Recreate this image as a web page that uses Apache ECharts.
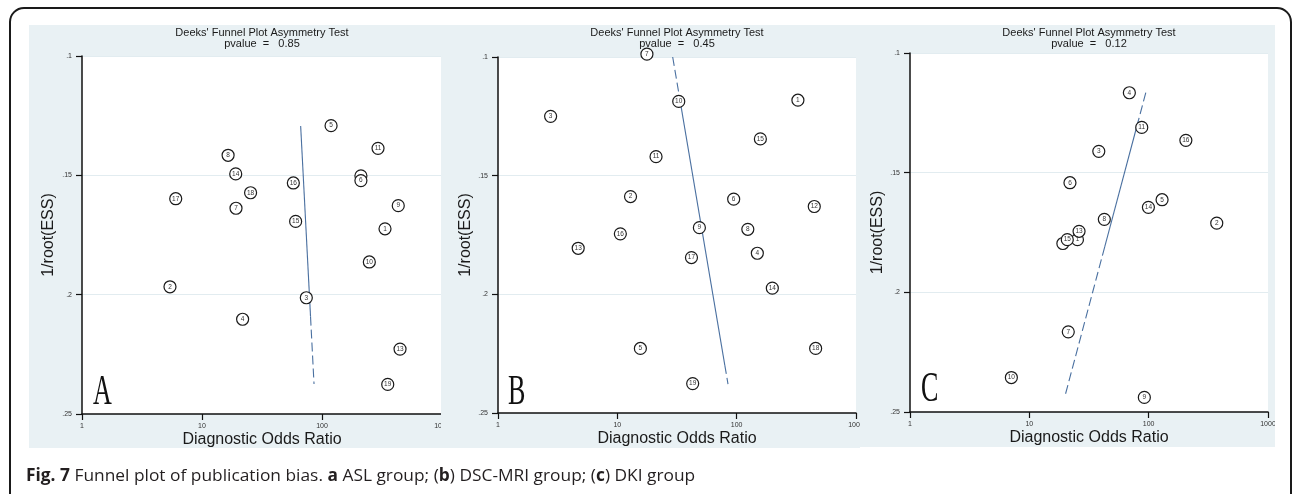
<!DOCTYPE html>
<html>
<head>
<meta charset="utf-8">
<script src="https://cdn.jsdelivr.net/npm/echarts@6/dist/echarts.min.js"></script>
<style>
html, body { margin: 0; padding: 0; background: #fff; }
#page { position: relative; width: 1293px; height: 494px; overflow: hidden; }
#frame { position: absolute; left: 0; top: 0; width: 1293px; height: 494px; }
.panel { position: absolute; overflow: hidden; }
.panel .chart { position: absolute; left: 0; top: 0; }
</style>
</head>
<body>
<div id="page">
  <div id="frame"></div>
  <div class="panel" style="left:29px;top:25px;width:412px;height:423px"><div class="chart" id="chartA" style="width:443px;height:423px"></div></div>
  <div class="panel" style="left:441px;top:25px;width:419px;height:423px"><div class="chart" id="chartB" style="width:445px;height:423px"></div></div>
  <div class="panel" style="left:860px;top:25px;width:415px;height:422px"><div class="chart" id="chartC" style="width:438px;height:422px"></div></div>
</div>
<script>
// A 组 (ASL)
const aStudy = [1, 2, 3, 4, 5, 6, 7, 8, 9, 10, 11, 12, 13, 14, 15, 16, 17, 18, 19]
const aDor = [335, 5.41, 74, 21.8, 119, 211, 19.2, 16.5, 432, 248, 293, 211, 447, 19.1, 60.3, 57.7, 6.04, 25.4, 353]
const aEss = [0.1724, 0.1967, 0.2013, 0.2103, 0.1292, 0.1522, 0.1638, 0.1416, 0.1627, 0.1863, 0.1387, 0.1502, 0.2228, 0.1494, 0.1693, 0.1532, 0.1598, 0.1573, 0.2376]
const aLine = [[66.4, 0.1293], [85.8, 0.2374]]
const aSolid = [0.1293, 0.2092]
const aHidden = [12]

// B 组 (DSC-MRI)
const bStudy = [1, 2, 3, 4, 5, 6, 7, 8, 9, 10, 11, 12, 13, 14, 15, 16, 17, 18, 19]
const bDor = [326, 12.9, 2.76, 149, 15.6, 94.4, 17.7, 124, 48.7, 32.7, 21.1, 447, 4.7, 199, 158, 10.6, 41.8, 459, 42.8]
const bEss = [0.1182, 0.1588, 0.125, 0.1827, 0.2228, 0.1599, 0.0988, 0.1726, 0.1719, 0.1187, 0.142, 0.163, 0.1806, 0.1974, 0.1345, 0.1745, 0.1845, 0.2228, 0.2376]
const bLine = [[29.1, 0.1], [84.6, 0.2378]]
const bSolid = [0.1185, 0.2298]
const bHidden = []

// C 组 (DKI)
const cStudy = [1, 2, 3, 4, 5, 6, 7, 8, 9, 10, 11, 12, 13, 14, 15, 16]
const cDor = [25.3, 372, 38.2, 68.9, 129.5, 21.9, 21.2, 42.5, 92, 7.07, 87.5, 19.1, 26.1, 99.5, 20.8, 205]
const cEss = [0.178, 0.1711, 0.1411, 0.1166, 0.1613, 0.1542, 0.2165, 0.1695, 0.2439, 0.2356, 0.1311, 0.1796, 0.1745, 0.1645, 0.178, 0.1365]
const cLine = [[94.6, 0.1166], [19.8, 0.2437]]
const cSolid = [0.128, 0.181]
const cHidden = [12]

const xTicks = [1, 10, 100, 1000]
const yTicks = [0.1, 0.15, 0.2, 0.25]

const BG = '#e9f1f4'
const LINE_COLOR = '#4a70a0'

// 在回归线上按 y 取点（log x 线性）
function pointAt(ends, y) {
  const [p0, p1] = ends
  const t = (y - p0[1]) / (p1[1] - p0[1])
  const lx = Math.log10(p0[0]) + t * (Math.log10(p1[0]) - Math.log10(p0[0]))
  return [Math.pow(10, lx), y]
}

function makePanel(id, cfg) {
  const chart = echarts.init(document.getElementById(id))
  const data = cfg.study.map((s, i) => ({
    value: [cfg.dor[i], cfg.ess[i], s],
    label: { show: cfg.hidden.indexOf(s) < 0 }
  }))
  // 被遮住的点先画
  data.sort((a, b) => (cfg.hidden.indexOf(b.value[2]) >= 0) - (cfg.hidden.indexOf(a.value[2]) >= 0))

  const yTop = Math.min(cfg.line[0][1], cfg.line[1][1])
  const yBot = Math.max(cfg.line[0][1], cfg.line[1][1])
  const solid = [pointAt(cfg.line, cfg.solid[0]), pointAt(cfg.line, cfg.solid[1])]
  const dashTop = [pointAt(cfg.line, yTop), pointAt(cfg.line, cfg.solid[0])]
  const dashBot = [pointAt(cfg.line, cfg.solid[1]), pointAt(cfg.line, yBot)]

  const lineSeries = (d, dashed) => ({
    type: 'line',
    data: d,
    showSymbol: false,
    silent: true,
    clip: false,
    lineStyle: { color: LINE_COLOR, width: 1.1, type: dashed ? [9, 4] : 'solid' },
    z: 2
  })

  const cx = cfg.grid.left + cfg.grid.width / 2

  chart.setOption({
    backgroundColor: BG,
    animation: false,
    grid: {
      left: cfg.grid.left, top: cfg.grid.top, width: cfg.grid.width, height: cfg.grid.height,
      outerBoundsMode: 'none', containLabel: false,
      show: true, backgroundColor: '#fff', borderWidth: 0
    },
    xAxis: {
      type: 'log', logBase: 10, min: xTicks[0], max: xTicks[xTicks.length - 1],
      name: 'Diagnostic Odds Ratio', nameLocation: 'middle', nameGap: 18, nameMoveOverlap: false,
      nameTextStyle: { fontFamily: 'Liberation Sans', fontSize: 16, color: '#1a1a1a' },
      axisLine: { show: true, onZero: false, lineStyle: { color: '#111', width: 1.5 } },
      axisTick: { show: true, length: 6, lineStyle: { color: '#111', width: 1.2 } },
      axisLabel: { fontFamily: 'Liberation Sans', fontSize: 7, color: '#333', margin: 9, formatter: v => String(Math.round(v)) },
      splitLine: { show: false },
      minorTick: { show: false }
    },
    yAxis: {
      type: 'value', inverse: true, min: yTicks[0], max: yTicks[yTicks.length - 1], interval: 0.05,
      name: '1/root(ESS)', nameLocation: 'middle', nameGap: cfg.nameGap, nameRotate: 90, nameMoveOverlap: false,
      nameTextStyle: { fontFamily: 'Liberation Sans', fontSize: 16, color: '#1a1a1a' },
      axisLine: { show: true, lineStyle: { color: '#111', width: 1.5 } },
      axisTick: { show: true, length: 6, lineStyle: { color: '#111', width: 1.2 } },
      axisLabel: { fontFamily: 'Liberation Sans', fontSize: 7, color: '#333', margin: 10,
        formatter: v => String(+(+v).toFixed(2)).replace(/^0/, '') },
      splitLine: { show: true, lineStyle: { color: '#e2ecf0', width: 1 } }
    },
    graphic: [
      {
        type: 'text', silent: true,
        x: cx, y: 2,
        style: {
          text: "Deeks' Funnel Plot Asymmetry Test\npvalue  =   " + cfg.pvalue,
          fontFamily: 'Liberation Sans', fontSize: 11, lineHeight: 11.5,
          fill: '#1a1a1a', align: 'center', textAlign: 'center', verticalAlign: 'top'
        }
      },
      {
        type: 'text', silent: true,
        x: cfg.letter[0], y: cfg.letter[1], scaleX: 0.62,
        style: {
          text: cfg.label, fontFamily: 'Liberation Serif', fontSize: 42,
          fill: '#111', align: 'left', verticalAlign: 'bottom'
        }
      }
    ],
    series: [
      lineSeries(dashTop, true),
      lineSeries(solid, false),
      lineSeries(dashBot, true),
      {
        type: 'scatter',
        data: data,
        symbol: 'circle',
        symbolSize: 12,
        clip: false,
        silent: true,
        itemStyle: { color: '#fff', borderColor: '#1a1a1a', borderWidth: 1.2, opacity: 1 },
        label: {
          show: true, position: 'inside', formatter: p => p.value[2],
          fontFamily: 'Liberation Sans', fontSize: 6.5, color: '#333'
        },
        z: 3
      }
    ]
  })
  return chart
}

makePanel('chartA', {
  study: aStudy, dor: aDor, ess: aEss, line: aLine, solid: aSolid, hidden: aHidden,
  pvalue: '0.85', label: 'A', nameGap: 25,
  grid: { left: 53, top: 31, width: 360, height: 358 },
  letter: [64, 389]
})
makePanel('chartB', {
  study: bStudy, dor: bDor, ess: bEss, line: bLine, solid: bSolid, hidden: bHidden,
  pvalue: '0.45', label: 'B', nameGap: 24,
  grid: { left: 57, top: 32, width: 358, height: 356 },
  letter: [67, 389]
})
makePanel('chartC', {
  study: cStudy, dor: cDor, ess: cEss, line: cLine, solid: cSolid, hidden: cHidden,
  pvalue: '0.12', label: 'C', nameGap: 24,
  grid: { left: 50, top: 28, width: 358, height: 359 },
  letter: [61, 386]
})

// 外框与图注
const frame = echarts.init(document.getElementById('frame'))
frame.setOption({
  animation: false,
  graphic: [
    {
      type: 'rect', silent: true,
      shape: { x: 10, y: 8, width: 1281, height: 500, r: 14 },
      style: { fill: 'none', stroke: '#1a1a1a', lineWidth: 2 }
    },
    {
      type: 'text', silent: true, x: 26, y: 476, scaleX: 1.02,
      style: {
        text: '{b|Fig. 7} Funnel plot of publication bias. {b|a} ASL group; ({b|b}) DSC-MRI group; ({b|c}) DKI group',
        fontFamily: 'Open Sans', fontSize: 17, fill: '#231f20', verticalAlign: 'middle',
        rich: { b: { fontFamily: 'Open Sans', fontSize: 17, fontWeight: 'bold', fill: '#231f20' } }
      }
    }
  ]
})
</script>
</body>
</html>
